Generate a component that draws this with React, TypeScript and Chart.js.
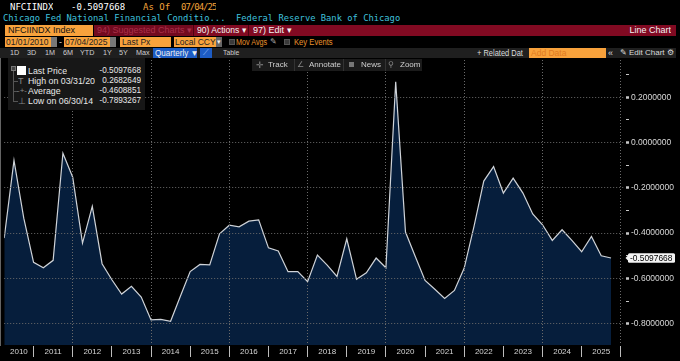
import React, { useEffect, useRef } from "react";
import { Chart, registerables } from "chart.js";

Chart.register(...registerables);

// ---------- data ----------
const quarterEnds: string[] = [
  "03/31/10", "06/30/10", "09/30/10", "12/31/10",
  "03/31/11", "06/30/11", "09/30/11", "12/31/11",
  "03/31/12", "06/30/12", "09/30/12", "12/31/12",
  "03/31/13", "06/30/13", "09/30/13", "12/31/13",
  "03/31/14", "06/30/14", "09/30/14", "12/31/14",
  "03/31/15", "06/30/15", "09/30/15", "12/31/15",
  "03/31/16", "06/30/16", "09/30/16", "12/31/16",
  "03/31/17", "06/30/17", "09/30/17", "12/31/17",
  "03/31/18", "06/30/18", "09/30/18", "12/31/18",
  "03/31/19", "06/30/19", "09/30/19", "12/31/19",
  "03/31/20", "06/30/20", "09/30/20", "12/31/20",
  "03/31/21", "06/30/21", "09/30/21", "12/31/21",
  "03/31/22", "06/30/22", "09/30/22", "12/31/22",
  "03/31/23", "06/30/23", "09/30/23", "12/31/23",
  "03/31/24", "06/30/24", "09/30/24", "12/31/24",
  "03/31/25", "06/30/25", "09/30/25",
];

const nfciValues: number[] = [
  -0.422, -0.079, -0.334, -0.529,
  -0.553, -0.52, -0.047, -0.153,
  -0.444, -0.282, -0.535, -0.606,
  -0.669, -0.635, -0.682, -0.783,
  -0.781, -0.7893267, -0.679, -0.57,
  -0.538, -0.54, -0.403, -0.365,
  -0.372, -0.347, -0.341, -0.465,
  -0.479, -0.57, -0.57, -0.614,
  -0.497, -0.541, -0.591, -0.425,
  -0.604, -0.575, -0.51, -0.553,
  0.2682649, -0.395, -0.503, -0.609,
  -0.648, -0.688, -0.653, -0.554,
  -0.37, -0.17, -0.106, -0.223,
  -0.157, -0.223, -0.315, -0.363,
  -0.432, -0.385, -0.432, -0.482,
  -0.415, -0.5, -0.5097668,
];

const yearLabels: string[] = [
  "2010", "2011", "2012", "2013", "2014", "2015", "2016", "2017",
  "2018", "2019", "2020", "2021", "2022", "2023", "2024", "2025",
];

const yTickValues: number[] = [-0.8, -0.7, -0.6, -0.5, -0.4, -0.3, -0.2, -0.1, 0, 0.1, 0.2, 0.3];

const legendRows: { label: string; value: string }[] = [
  { label: "Last Price", value: "-0.5097668" },
  { label: "High on 03/31/20", value: "0.2682649" },
  { label: "Average", value: "-0.4608851" },
  { label: "Low on 06/30/14", value: "-0.7893267" },
];

const rangeButtons: string[] = ["1D", "3D", "1M", "6M", "YTD", "1Y", "5Y", "Max"];

// ---------- helpers ----------
const SANS = "'Liberation Sans',Arial,Helvetica,sans-serif";
const MONO = "'DejaVu Sans Mono','Liberation Mono',monospace";

const toYear = (s: string) => {
  const [m, , y] = s.split("/").map(Number);
  return 2000 + y + m / 12;
};

const X_MIN = toYear(quarterEnds[0]);
const X_MAX = 2026.107;
const Y_MIN = -0.894;
const Y_MAX = 0.378;

type Tick = { value: number; label: string; sep: boolean };

const xTicks: Tick[] = [];
yearLabels.forEach((yl) => {
  const y = Number(yl);
  const a = Math.max(y, X_MIN);
  const b = Math.min(y + 1, X_MAX);
  xTicks.push({ value: (a + b) / 2, label: yl, sep: false });
  xTicks.push({ value: y + 1, label: "", sep: true });
});
xTicks.sort((p, q) => p.value - q.value);

const isMajor = (v: number) => Math.round(v * 10) % 2 === 0;
const yTicks: Tick[] = yTickValues.map((v) => ({
  value: v,
  label: isMajor(v) ? (Math.abs(v) < 1e-9 ? "0.0000000" : v.toFixed(7)) : "",
  sep: isMajor(v),
}));

const lastTagPlugin = {
  id: "lastTag",
  afterDraw(chart: any) {
    const ys = chart.scales.y;
    const ctx = chart.ctx as CanvasRenderingContext2D;
    const v = nfciValues[nfciValues.length - 1];
    const y = ys.getPixelForValue(v);
    const x0 = ys.left + 3;
    ctx.save();
    ctx.fillStyle = "#f3f3f3";
    ctx.beginPath();
    ctx.moveTo(ys.left + 0.5, y);
    ctx.lineTo(x0 + 1, y - 3.5);
    ctx.lineTo(x0 + 1, y + 3.5);
    ctx.closePath();
    ctx.fill();
    ctx.beginPath();
    const w = 47, h = 9.6, r = 1.5;
    ctx.moveTo(x0 + r, y - h / 2);
    ctx.lineTo(x0 + w - r, y - h / 2);
    ctx.quadraticCurveTo(x0 + w, y - h / 2, x0 + w, y - h / 2 + r);
    ctx.lineTo(x0 + w, y + h / 2 - r);
    ctx.quadraticCurveTo(x0 + w, y + h / 2, x0 + w - r, y + h / 2);
    ctx.lineTo(x0 + r, y + h / 2);
    ctx.quadraticCurveTo(x0, y + h / 2, x0, y + h / 2 - r);
    ctx.lineTo(x0, y - h / 2 + r);
    ctx.quadraticCurveTo(x0, y - h / 2, x0 + r, y - h / 2);
    ctx.fill();
    ctx.fillStyle = "#000";
    ctx.font = `8.4px ${SANS}`;
    ctx.textBaseline = "middle";
    ctx.textAlign = "left";
    ctx.fillText(v.toFixed(7), x0 + 2, y + 0.5);
    ctx.restore();
  },
};

// ---------- small DOM pieces ----------
type BoxProps = {
  x: number; y: number; w?: number; h: number; bg?: string; color?: string;
  font?: string; size?: number; children?: React.ReactNode; ls?: number;
  align?: "left" | "right" | "center"; pad?: number; sx?: number; border?: string;
};
const Box = ({ x, y, w, h, bg, color = "#ddd", font = SANS, size = 9, children, ls, align = "left", pad = 0, sx, border }: BoxProps) => (
  <div
    style={{
      position: "absolute", left: x, top: y, width: w, height: h, background: bg, color,
      fontFamily: font, fontSize: size, lineHeight: `${h}px`, whiteSpace: "pre", overflow: "hidden",
      letterSpacing: ls, textAlign: align, paddingLeft: pad, boxSizing: "border-box", border,
    }}
  >
    {sx ? (
      <span style={{ display: "inline-block", transform: `scaleX(${sx})`, transformOrigin: align === "right" ? "right center" : "left center" }}>
        {children}
      </span>
    ) : (
      children
    )}
  </div>
);

const ORANGE = "#f8a23c";
const MAROON = "#810a22";
const AMBER = "#e8922c";

function Header() {
  const btnX = [10, 27, 45, 63, 80, 103, 119, 136];
  return (
    <>
      {/* row 1 */}
      <Box x={10} y={1} h={12} color="#ffffff" font={MONO} size={9}>NFCIINDX</Box>
      <Box x={71} y={1} h={12} color="#ffffff" font={MONO} size={9}>-0.5097668</Box>
      <Box x={143} y={1} h={12} color="#f2a33a" font={MONO} size={9}>As Of</Box>
      <Box x={181} y={1} h={12} color="#f2a33a" font={MONO} size={9} ls={-1}>07/04/25</Box>
      {/* row 2 */}
      <Box x={3} y={13} h={11} color="#3fc1dd" font={MONO} size={8.8}>
        {"Chicago Fed National Financial Conditio...  Federal Reserve Bank of Chicago"}
      </Box>
      {/* row 3 */}
      <Box x={94} y={25} w={582} h={11} bg={MAROON} />
      <Box x={94} y={25} w={98} h={11} bg="#730a1f" />
      <Box x={5} y={25} w={88} h={11} bg={ORANGE} color="#111" size={9} pad={3}>NFCIINDX Index</Box>
      <Box x={97} y={25} h={11} color="#a8304a" size={9}>94) Suggested Charts ▾</Box>
      <Box x={193} y={25} w={1} h={11} bg="#4a0412" />
      <Box x={197} y={25} h={11} color="#f2f2f2" size={9} sx={0.95}>90) Actions ▾</Box>
      <Box x={248} y={25} w={1} h={11} bg="#4a0412" />
      <Box x={253} y={25} h={11} color="#f2f2f2" size={9}>97) Edit ▾</Box>
      <Box x={600} y={25} w={71} h={11} color="#f2f2f2" size={9} align="right">Line Chart</Box>
      {/* row 4 */}
      <Box x={5} y={37} w={46} h={10} bg={ORANGE} color="#222" size={8.5} pad={1}>01/01/2010</Box>
      <Box x={51} y={37} w={6} h={10} bg="#777" />
      <Box x={59} y={37} h={10} color="#ddd" size={9}>-</Box>
      <Box x={64} y={37} w={46} h={10} bg={ORANGE} color="#222" size={8.5} pad={1}>07/04/2025</Box>
      <Box x={110} y={37} w={6} h={10} bg="#777" />
      <Box x={120} y={37} w={51} h={10} bg={ORANGE} color="#222" size={8.5} pad={2}>Last Px</Box>
      <Box x={174} y={37} w={42} h={10} bg={ORANGE} color="#222" size={8.5} pad={1}>Local CCY</Box>
      <Box x={216} y={37} w={6} h={10} bg="#666" color="#eee" size={7} align="center">▾</Box>
      <Box x={229} y={39} w={6} h={6} bg="#3a3a3a" border="1px solid #555" />
      <Box x={236} y={37} h={10} color={AMBER} size={8.5} sx={0.85}>Mov Avgs</Box>
      <Box x={270} y={37} h={10} color="#aaa" size={8}>✎</Box>
      <Box x={284} y={39} w={6} h={6} bg="#3a3a3a" border="1px solid #555" />
      <Box x={294} y={37} h={10} color={AMBER} size={8.5} sx={0.9}>Key Events</Box>
      {/* row 5 */}
      <Box x={0} y={48} w={676} h={10} bg="#1f1f1f" />
      {rangeButtons.map((b, i) => (
        <Box key={b} x={btnX[i]} y={48} h={10} color="#cfcfcf" size={8} sx={0.9}>{b}</Box>
      ))}
      <Box x={153} y={48} w={44} h={10} bg="#1d5cc4" color="#f0f0f0" size={8.5} pad={2} sx={0.95}>Quarterly ▼</Box>
      <Box x={200} y={48} w={12} h={10} bg="#1d5cc4" color="#9fc3ff" size={8} align="center">⟋</Box>
      <Box x={223} y={48} h={10} color="#cfcfcf" size={8} sx={0.85}>Table</Box>
      <Box x={477} y={48} h={10} color="#dcdcdc" size={8.5} sx={0.88}>+ Related Dat</Box>
      <Box x={529} y={48} w={77} h={10} bg={ORANGE} color="#e07a20" size={8.5} pad={2}>Add Data</Box>
      <Box x={608} y={48} h={10} color="#dcdcdc" size={9}>«</Box>
      <Box x={620} y={48} h={10} color="#dcdcdc" size={8}>✎</Box>
      <Box x={629} y={48} h={10} color="#dcdcdc" size={8}>Edit Chart</Box>
      <Box x={667} y={48} h={10} color="#dcdcdc" size={8}>⚙</Box>
      {/* row 6 toolbar */}
      <Box x={252} y={59} w={170} h={12} bg="#1b1b1b" />
      <Box x={294} y={59} w={1} h={12} bg="#333" />
      <Box x={343} y={59} w={1} h={12} bg="#333" />
      <Box x={385} y={59} w={1} h={12} bg="#333" />
      <Box x={256} y={59} h={12} color="#888" size={9}>✛</Box>
      <Box x={268} y={59} h={12} color="#cfcfcf" size={8}>Track</Box>
      <Box x={297} y={59} h={12} color="#888" size={8}>∠</Box>
      <Box x={309} y={59} h={12} color="#cfcfcf" size={8}>Annotate</Box>
      <Box x={349} y={62} w={5} h={5} bg="#777" />
      <Box x={361} y={59} h={12} color="#cfcfcf" size={8}>News</Box>
      <Box x={388} y={59} h={12} color="#888" size={8}>⚲</Box>
      <Box x={400} y={59} h={12} color="#cfcfcf" size={8}>Zoom</Box>
      {/* legend */}
      <Box x={8} y={58} w={137} h={52} bg="#171717" />
      <Box x={11} y={66} w={5} h={5} bg="#444" border="1px solid #777" />
      <Box x={13} y={71} w={1} h={31} bg="#555" />
      <Box x={17} y={66} w={9} h={9} bg="#ffffff" />
      {legendRows.map((r, i) => (
        <React.Fragment key={r.label}>
          {i > 0 && <Box x={13} y={70.5 + i * 10.3} w={5} h={1} bg="#555" />}
          {i === 1 && <Box x={18} y={76} h={10} color="#888" size={9}>T</Box>}
          {i === 2 && <Box x={17} y={86} h={10} color="#888" size={8}>-+-</Box>}
          {i === 3 && <Box x={18} y={96} h={10} color="#888" size={9}>⊥</Box>}
          <Box x={28} y={65.5 + i * 10.3} h={10.3} color="#e8e8e8" size={8.8}>{r.label}</Box>
          <Box x={90} y={65.5 + i * 10.3} w={51} h={10.3} color="#e8e8e8" size={8.2} align="right">{r.value}</Box>
        </React.Fragment>
      ))}
    </>
  );
}

export default function App() {
  const canvasRef = useRef<HTMLCanvasElement | null>(null);

  useEffect(() => {
    const canvas = canvasRef.current;
    if (!canvas) return;
    const points = quarterEnds.map((q, i) => ({ x: toYear(q), y: nfciValues[i] }));
    const chart = new Chart(canvas, {
      type: "line",
      data: {
        datasets: [
          {
            data: points,
            borderColor: "#cfd3d8",
            borderWidth: 1.2,
            backgroundColor: "#061e3c",
            fill: "start",
            pointRadius: 0,
            tension: 0,
          },
        ],
      },
      options: {
        animation: false,
        responsive: false,
        maintainAspectRatio: false,
        layout: { padding: { left: 4.2, top: 0, right: 0, bottom: 0 } },
        plugins: { legend: { display: false }, tooltip: { enabled: false } },
        scales: {
          x: {
            type: "linear",
            position: "bottom",
            min: X_MIN,
            max: X_MAX,
            afterBuildTicks: (s: any) => {
              s.ticks = xTicks.map((t) => ({ value: t.value }));
            },
            afterFit: (s: any) => {
              s.height = 16;
              s.paddingLeft = 0;
              s.paddingRight = 0;
            },
            grid: {
              z: 1,
              drawOnChartArea: true,
              drawTicks: true,
              tickLength: 12,
              lineWidth: 1,
              color: (c: any) => {
                const t = xTicks[c.index];
                return t && t.sep && Math.round(t.value) % 2 === 0 ? "#6a6a6a" : "rgba(0,0,0,0)";
              },
              tickColor: (c: any) => {
                const t = xTicks[c.index];
                return t && t.sep ? "#bdbdbd" : "rgba(0,0,0,0)";
              },
            },
            border: { display: true, color: "#c8c8c8", width: 1, dash: [1, 2] },
            ticks: {
              autoSkip: false,
              maxRotation: 0,
              minRotation: 0,
              padding: -10,
              color: "#d4d4d4",
              font: { family: SANS, size: 8 },
              callback: (_v: any, i: number) => (xTicks[i] ? xTicks[i].label : ""),
            },
          },
          y: {
            type: "linear",
            position: "right",
            min: Y_MIN,
            max: Y_MAX,
            afterBuildTicks: (s: any) => {
              s.ticks = yTicks.map((t) => ({ value: t.value }));
            },
            afterFit: (s: any) => {
              s.width = 55;
              s.paddingTop = 0;
              s.paddingBottom = 0;
            },
            grid: {
              z: 1,
              drawOnChartArea: true,
              drawTicks: true,
              tickLength: 4,
              color: (c: any) => (yTicks[c.index] && yTicks[c.index].sep ? "#6a6a6a" : "rgba(0,0,0,0)"),
              tickColor: "#c8c8c8",
              tickWidth: (c: any) => (yTicks[c.index] && yTicks[c.index].sep ? 2.5 : 1),
            },
            border: { display: true, color: "#c8c8c8", width: 1, dash: [1, 2] },
            ticks: {
              autoSkip: false,
              padding: 2,
              color: "#d8d8d8",
              font: { family: SANS, size: 8.5 },
              callback: (_v: any, i: number) => (yTicks[i] ? yTicks[i].label : ""),
            },
          },
        },
      },
      plugins: [lastTagPlugin],
    } as any);
    return () => chart.destroy();
  }, []);

  return (
    <div
      style={{
        position: "fixed", left: 0, top: 0, width: 680, height: 361, background: "#000",
        overflow: "hidden",
      }}
    >
      <canvas
        ref={canvasRef}
        width={680}
        height={304}
        style={{ position: "absolute", left: 0, top: 57, width: 680, height: 304 }}
      />
      <Header />
    </div>
  );
}
